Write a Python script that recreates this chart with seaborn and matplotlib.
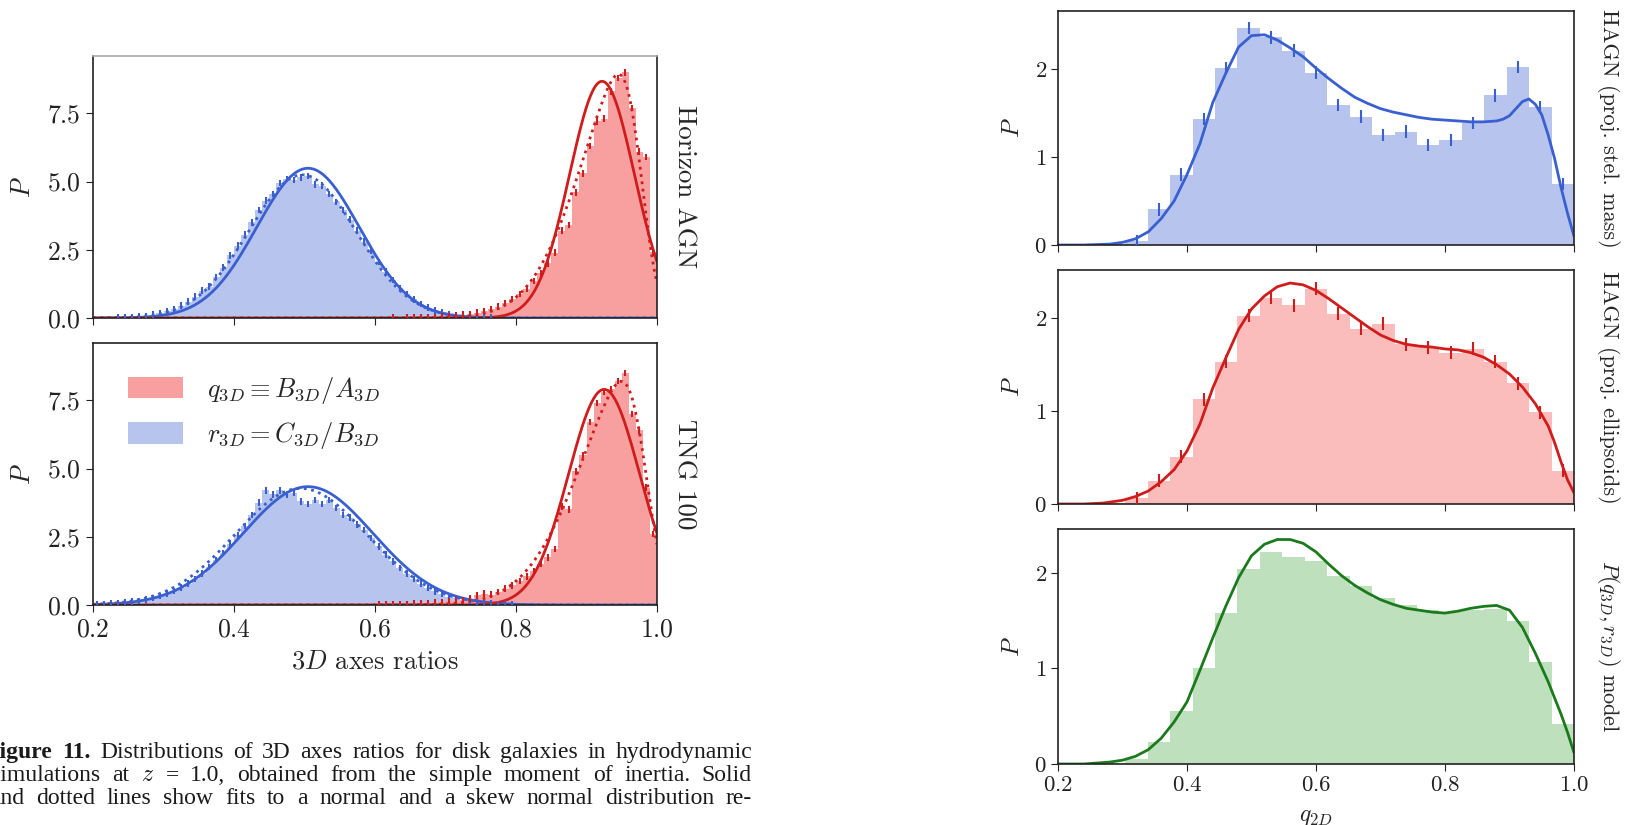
import math
import numpy as np
import pandas as pd
import matplotlib
matplotlib.use("Agg")
import matplotlib.pyplot as plt
import seaborn as sns
from matplotlib.patches import Patch

# ---------------- data ----------------
# left panels: 80 bins of width 0.01 on [0.2, 1.0]
hagn_r3d = [0.0, 0.0, 0.01, 0.02, 0.02, 0.04, 0.05, 0.08, 0.12, 0.17,
            0.24, 0.33, 0.45, 0.60, 0.78, 1.00, 1.15, 1.50, 1.85, 2.30,
            2.65, 3.05, 3.50, 3.95, 4.30, 4.55, 4.95, 5.10, 5.05, 5.15,
            5.20, 4.90, 4.85, 4.55, 4.25, 3.95, 3.60, 3.20, 2.80, 2.45,
            2.05, 1.70, 1.40, 1.10, 0.88, 0.68, 0.52, 0.38, 0.28, 0.20,
            0.14, 0.10, 0.07, 0.05, 0.03, 0.02, 0.02, 0.01, 0.0, 0.0,
            0.0, 0.0, 0.0, 0.0, 0.0, 0.0, 0.0, 0.0, 0.0, 0.0,
            0.0, 0.0, 0.0, 0.0, 0.0, 0.0, 0.0, 0.0, 0.0, 0.0]
hagn_q3d = [0.0] * 40 + [
            0.01, 0.01, 0.02, 0.01, 0.02, 0.02, 0.03, 0.03, 0.04, 0.05,
            0.07, 0.09, 0.12, 0.15, 0.20, 0.26, 0.33, 0.42, 0.55, 0.70,
            0.88, 1.08, 1.35, 1.65, 2.00, 2.40, 3.20, 3.40, 4.60, 5.30,
            6.30, 7.20, 7.30, 8.30, 8.80, 9.00, 7.70, 6.10, 5.90, 2.40]
tng_r3d = [0.03, 0.04, 0.05, 0.07, 0.09, 0.12, 0.15, 0.20, 0.26, 0.33,
           0.42, 0.52, 0.64, 0.78, 0.95, 1.15, 1.40, 1.65, 1.90, 2.25,
           2.55, 2.90, 3.30, 3.75, 4.20, 4.05, 4.20, 4.05, 4.10, 3.80,
           3.70, 3.85, 3.70, 3.85, 3.55, 3.30, 3.20, 2.95, 2.75, 2.45,
           2.15, 1.85, 1.60, 1.35, 1.15, 0.95, 0.78, 0.63, 0.50, 0.40,
           0.31, 0.24, 0.18, 0.14, 0.10, 0.08, 0.06, 0.04, 0.03, 0.02,
           0.01, 0.01, 0.01, 0.01, 0.01, 0.0, 0.0, 0.0, 0.0, 0.0,
           0.0, 0.0, 0.0, 0.0, 0.0, 0.0, 0.0, 0.0, 0.0, 0.0]
tng_q3d = [0.0] * 30 + [
           0.01, 0.01, 0.01, 0.01, 0.01, 0.01, 0.01, 0.01, 0.01, 0.01,
           0.02, 0.02, 0.03, 0.03, 0.04, 0.05, 0.06, 0.07, 0.09, 0.11,
           0.13, 0.16, 0.19, 0.23, 0.35, 0.42, 0.38, 0.48, 0.60, 0.72,
           0.88, 1.05, 1.25, 1.50, 1.75, 2.05, 3.60, 3.50, 4.90, 5.50,
           6.70, 7.40, 7.80, 7.90, 8.20, 8.50, 7.00, 6.40, 4.30, 2.60]

# fit parameters: normal (mean, sd) and skew normal (loc, scale, shape)
hagn_r3d_normal = (0.505, 0.0727)
hagn_q3d_normal = (0.922, 0.046)
tng_r3d_normal = (0.505, 0.092)
tng_q3d_normal = (0.925, 0.0505)
hagn_r3d_skew = (0.485, 0.077, 0.2)
hagn_q3d_skew = (0.978, 0.078, -4.0)
tng_r3d_skew = (0.46, 0.10, 0.5)
tng_q3d_skew = (0.985, 0.085, -4.0)

# right panels: 23 bins on [0.2, 1.0]
q2d_stel_mass = [0.0, 0.0, 0.01, 0.04, 0.405, 0.80, 1.43, 2.01, 2.47, 2.36, 2.21, 1.96,
                 1.59, 1.46, 1.25, 1.29, 1.14, 1.19, 1.39, 1.70, 2.02, 1.57, 0.69]
q2d_ellipsoids = [0.0, 0.0, 0.01, 0.06, 0.25, 0.51, 1.13, 1.53, 2.03, 2.22, 2.14, 2.32,
                  2.05, 1.89, 1.94, 1.72, 1.69, 1.63, 1.67, 1.53, 1.30, 0.99, 0.36]
q2d_model = [0.0, 0.0, 0.01, 0.05, 0.23, 0.55, 1.00, 1.58, 2.04, 2.22, 2.17, 2.12,
             1.97, 1.86, 1.74, 1.66, 1.61, 1.59, 1.61, 1.62, 1.50, 1.07, 0.42]

curve_stel_x = [0.20, 0.24, 0.28, 0.30, 0.32, 0.34, 0.36, 0.38, 0.40, 0.42, 0.44, 0.46,
                0.48, 0.50, 0.52, 0.54, 0.56, 0.58, 0.60, 0.62, 0.64, 0.66, 0.68, 0.70,
                0.72, 0.74, 0.76, 0.78, 0.80, 0.82, 0.84, 0.86, 0.88, 0.89, 0.90, 0.91,
                0.92, 0.93, 0.94, 0.95, 0.96, 0.97, 0.98, 0.99, 1.00]
curve_stel_y = [0.0, 0.0, 0.01, 0.03, 0.07, 0.15, 0.30, 0.50, 0.80, 1.15, 1.62, 1.95,
                2.25, 2.38, 2.39, 2.33, 2.24, 2.14, 2.01, 1.89, 1.78, 1.68, 1.61, 1.55,
                1.51, 1.48, 1.45, 1.43, 1.42, 1.41, 1.40, 1.40, 1.41, 1.43, 1.47, 1.55,
                1.63, 1.66, 1.60, 1.48, 1.25, 0.98, 0.65, 0.36, 0.10]
curve_ell_x = [0.20, 0.24, 0.27, 0.30, 0.32, 0.34, 0.36, 0.38, 0.40, 0.42, 0.44, 0.46,
               0.48, 0.50, 0.52, 0.54, 0.56, 0.58, 0.60, 0.62, 0.64, 0.66, 0.68, 0.70,
               0.72, 0.74, 0.76, 0.78, 0.80, 0.82, 0.84, 0.86, 0.88, 0.90, 0.92, 0.94,
               0.96, 0.97, 0.98, 0.99, 1.00]
curve_ell_y = [0.0, 0.0, 0.01, 0.04, 0.08, 0.14, 0.24, 0.37, 0.57, 0.86, 1.25, 1.57,
               1.88, 2.10, 2.24, 2.34, 2.38, 2.36, 2.30, 2.21, 2.11, 2.01, 1.91, 1.82,
               1.76, 1.72, 1.70, 1.69, 1.67, 1.66, 1.63, 1.58, 1.50, 1.40, 1.26, 1.08,
               0.84, 0.66, 0.45, 0.26, 0.12]
curve_mod_x = [0.20, 0.24, 0.28, 0.30, 0.32, 0.34, 0.36, 0.38, 0.40, 0.42, 0.44, 0.46,
               0.48, 0.50, 0.52, 0.54, 0.56, 0.58, 0.60, 0.62, 0.64, 0.66, 0.68, 0.70,
               0.72, 0.74, 0.76, 0.78, 0.80, 0.82, 0.84, 0.86, 0.88, 0.90, 0.92, 0.94,
               0.96, 0.98, 0.99, 1.00]
curve_mod_y = [0.0, 0.0, 0.02, 0.04, 0.08, 0.15, 0.27, 0.44, 0.65, 0.98, 1.32, 1.65,
               1.95, 2.18, 2.30, 2.35, 2.35, 2.31, 2.22, 2.09, 1.97, 1.87, 1.79, 1.72,
               1.67, 1.63, 1.61, 1.59, 1.58, 1.60, 1.63, 1.65, 1.66, 1.61, 1.43, 1.16,
               0.86, 0.52, 0.33, 0.12]

left_xticks = [0.2, 0.4, 0.6, 0.8, 1.0]
left_yticks = [0.0, 2.5, 5.0, 7.5]
right_yticks = [0, 1, 2]
left_err = 0.12
right_err = 0.07

legend_labels = [r"$q_{3D} \equiv B_{3D}/A_{3D}$", r"$r_{3D} = C_{3D}/B_{3D}$"]
left_side = ["Horizon AGN", "TNG 100"]
right_side = ["HAGN (proj. stel. mass)", "HAGN (proj. ellipsoids)", r"$P(q_{3D},r_{3D})$ model"]
caption = [
    [("Figure 11.", "bold"), ("Distributions of 3D axes ratios for disk galaxies in hydrodynamic", "normal")],
    [("simulations at $z$ = 1.0, obtained from the simple moment of inertia. Solid", "normal")],
    [("and dotted lines show fits to a normal and a skew normal distribution re-", "normal")],
]

# ---------------- style ----------------
sns.set_style("ticks")
plt.rcParams.update({
    "font.family": ["cmr10", "DejaVu Serif"],
    "mathtext.fontset": "cm",
    "axes.formatter.use_mathtext": True,
    "axes.linewidth": 1.2,
    "axes.edgecolor": "#222222",
    "xtick.direction": "out",
    "ytick.direction": "out",
    "xtick.major.size": 5,
    "ytick.major.size": 5,
    "xtick.color": "#222222",
    "ytick.color": "#222222",
})

BLUE_FILL, BLUE_LINE = "#b6c4ee", "#3a60cf"
RED_FILL, RED_LINE = "#f8a0a0", "#d11c1c"
PINK_FILL = "#fbbcbc"
GREEN_FILL, GREEN_LINE = "#bfe0bd", "#1b7a1b"

W, H = 1631, 825
fig = plt.figure(figsize=(W / 100, H / 100), dpi=100)


def px_axes(x0, y0, x1, y1):
    return fig.add_axes([x0 / W, 1 - y1 / H, (x1 - x0) / W, (y1 - y0) / H])


left_edges = np.linspace(0.2, 1.0, 81)
right_edges = np.linspace(0.2, 1.0, 24)
xfit = np.linspace(0.2, 1.0, 500)
erf = np.vectorize(math.erf)


def norm_pdf(x, mu, sd):
    return np.exp(-0.5 * ((x - mu) / sd) ** 2) / (sd * np.sqrt(2 * np.pi))


def skew_pdf(x, loc, scale, shape):
    z = (x - loc) / scale
    return 2 / scale * np.exp(-0.5 * z * z) / np.sqrt(2 * np.pi) * 0.5 * (1 + erf(shape * z / np.sqrt(2)))


def draw_hist(ax, edges, vals, fill, ecolor=None, err=None):
    vals = np.asarray(vals, float)
    centers = 0.5 * (edges[:-1] + edges[1:])
    df = pd.DataFrame({"x": centers, "w": vals})
    sns.histplot(data=df, x="x", weights="w", bins=list(edges), stat="count", element="step",
                 fill=True, color=fill, alpha=1.0, linewidth=0, ax=ax)
    if err is not None:
        m = vals > 0.015
        ax.errorbar(centers[m], vals[m], yerr=err, fmt="none", ecolor=ecolor,
                    elinewidth=1.5, capsize=0, zorder=5)


# ---------------- left panels ----------------
axL1 = px_axes(93, 56, 657, 318)
axL2 = px_axes(93, 343, 657, 605)
left_sets = [
    (axL1, hagn_r3d, hagn_q3d, hagn_r3d_normal, hagn_q3d_normal, hagn_r3d_skew, hagn_q3d_skew),
    (axL2, tng_r3d, tng_q3d, tng_r3d_normal, tng_q3d_normal, tng_r3d_skew, tng_q3d_skew),
]
for i, (ax, rv, qv, rn, qn, rs, qs) in enumerate(left_sets):
    draw_hist(ax, left_edges, rv, BLUE_FILL, ecolor=BLUE_LINE, err=left_err)
    draw_hist(ax, left_edges, qv, RED_FILL, ecolor=RED_LINE, err=left_err)
    sns.lineplot(x=xfit, y=norm_pdf(xfit, *rn), ax=ax, color=BLUE_LINE, linewidth=2.0)
    sns.lineplot(x=xfit, y=skew_pdf(xfit, *rs), ax=ax, color=BLUE_LINE, linewidth=2.0, linestyle=":")
    sns.lineplot(x=xfit, y=norm_pdf(xfit, *qn), ax=ax, color=RED_LINE, linewidth=2.0)
    sns.lineplot(x=xfit, y=skew_pdf(xfit, *qs), ax=ax, color=RED_LINE, linewidth=2.0, linestyle=":")
    ax.set_xlim(0.2, 1.0)
    ax.set_ylim(0, 9.6)
    ax.set_xticks(left_xticks)
    ax.set_yticks(left_yticks)
    ax.tick_params(labelsize=18.5, pad=4)
    ax.set_ylabel(r"$P$", fontsize=19, va="center")
    ax.yaxis.set_label_coords(-0.124, 0.5)
    ax.set_xlabel("")
    ax.text(1.049, 0.5, left_side[i], transform=ax.transAxes, rotation=-90,
            ha="center", va="center", fontsize=19.5)
    for s in ax.spines.values():
        s.set_visible(True)

axL1.tick_params(labelbottom=False)
axL1.spines["top"].set_color("#aaaaaa")
axL2.set_xlabel(r"$3D$ axes ratios", fontsize=19)
axL2.xaxis.set_label_coords(0.5, -0.218)
axL2.xaxis.label.set_va("center")
handles = [Patch(facecolor=RED_FILL, edgecolor="none"), Patch(facecolor=BLUE_FILL, edgecolor="none")]
axL2.legend(handles, legend_labels, loc="upper left", bbox_to_anchor=(0.02, 0.97),
            frameon=False, fontsize=19, handlelength=2.1, handleheight=0.9,
            handletextpad=0.9, labelspacing=0.55)

# ---------------- right panels ----------------
axR = [px_axes(1058, 11, 1574, 245), px_axes(1058, 270, 1574, 504), px_axes(1058, 529, 1574, 764)]
right_sets = [
    (q2d_stel_mass, curve_stel_x, curve_stel_y, BLUE_FILL, BLUE_LINE, right_err, 2.66),
    (q2d_ellipsoids, curve_ell_x, curve_ell_y, PINK_FILL, RED_LINE, right_err, 2.52),
    (q2d_model, curve_mod_x, curve_mod_y, GREEN_FILL, GREEN_LINE, None, 2.46),
]
for i, (ax, (vals, cx, cy, fill, line, err, ymax)) in enumerate(zip(axR, right_sets)):
    draw_hist(ax, right_edges, vals, fill, ecolor=line, err=err)
    sns.lineplot(x=cx, y=cy, ax=ax, color=line, linewidth=2.0)
    ax.set_xlim(0.2, 1.0)
    ax.set_ylim(0, ymax)
    ax.set_xticks(left_xticks)
    ax.set_yticks(right_yticks)
    ax.tick_params(labelsize=16.5, pad=3)
    ax.set_ylabel(r"$P$", fontsize=18, va="center")
    ax.yaxis.set_label_coords(-0.087, 0.5)
    ax.set_xlabel("")
    ax.text(1.066, 0.5, right_side[i], transform=ax.transAxes, rotation=-90,
            ha="center", va="center", fontsize=16)
    for s in ax.spines.values():
        s.set_visible(True)
    if i < 2:
        ax.tick_params(labelbottom=False)
axR[2].set_xlabel(r"$q_{2D}$", fontsize=17)
axR[2].xaxis.set_label_coords(0.5, -0.226)
axR[2].xaxis.label.set_va("center")

# ---------------- caption (justified lines, common baseline) ----------------
renderer = fig.canvas.get_renderer()
cap_base = [758, 781, 804]
cap_x0 = [-14, -9, -10]
cap_x1 = 752
cap_size = 17
for line, y, x0 in zip(caption, cap_base, cap_x0):
    words = []
    for text, weight in line:
        for w in text.split(" "):
            words.append((w, weight))
    arts = []
    total = 0.0
    for w, weight in words:
        t = fig.text(0, 1 - y / H, w, fontsize=cap_size, family="Liberation Serif",
                     weight=weight, va="baseline", ha="left", color="#1a1a1a")
        bb = t.get_window_extent(renderer=renderer)
        arts.append((t, bb.width))
        total += bb.width
    gap = (cap_x1 - x0 - total) / (len(arts) - 1)
    x = x0
    for t, wd in arts:
        t.set_x(x / W)
        x += wd + gap

fig.savefig("out.png", dpi=100)
